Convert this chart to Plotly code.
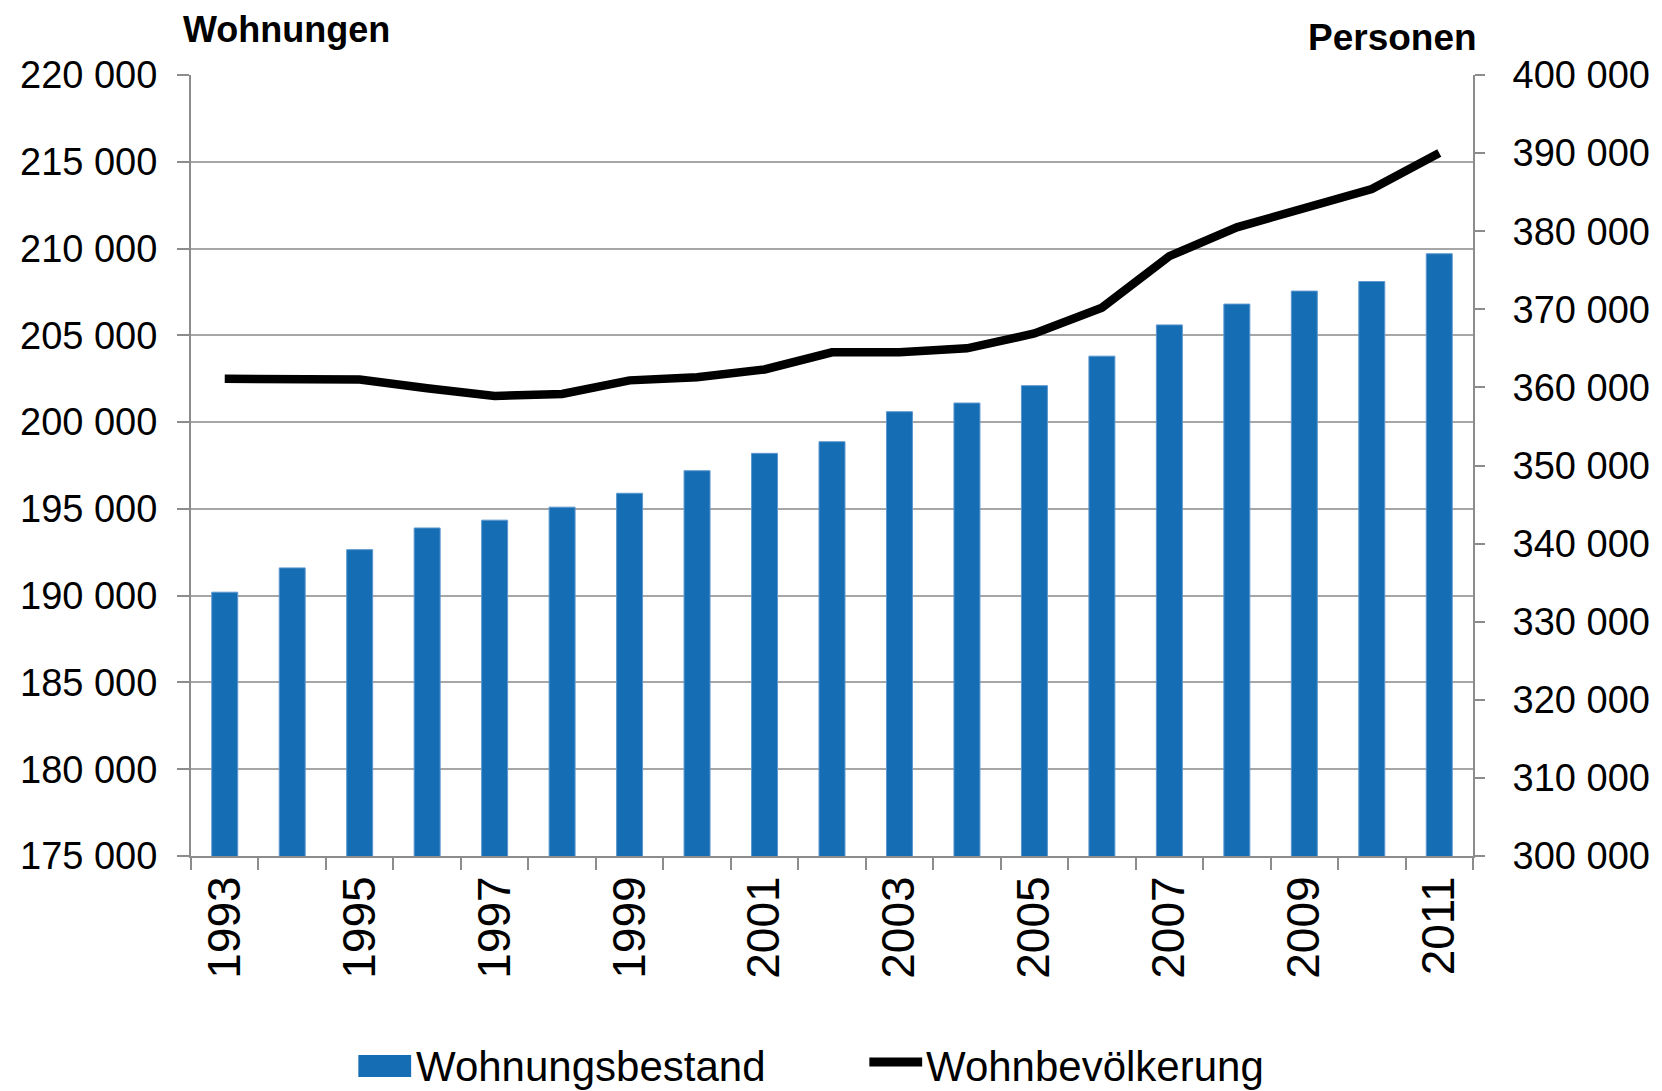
import plotly.graph_objects as go

years = list(range(1993, 2012))
wohnungsbestand = [190200, 191600, 192650, 193900, 194350, 195100, 195900, 197200, 198200, 198870,
                   200600, 201100, 202100, 203800, 205600, 206800, 207550, 208100, 209700]
wohnbevoelkerung = [361100, 361000, 361000, 359900, 358900, 359150, 360900, 361300, 362300, 364500,
                    364500, 365000, 366900, 370200, 376800, 380500, 382900, 385400, 390000]
x_tick_years = [1993, 1995, 1997, 1999, 2001, 2003, 2005, 2007, 2009, 2011]

BLUE = "#156EB4"
AXIS = "#8c8c8c"
GRID = "#a6a6a6"
FONT = "Liberation Sans, Arial, sans-serif"

fig = go.Figure()
fig.add_trace(go.Bar(
    x=years, y=wohnungsbestand, name="Wohnungsbestand",
    marker=dict(color=BLUE, line=dict(color="#5d97cf", width=1)),
    width=0.385, yaxis="y", showlegend=False,
))
fig.add_trace(go.Scatter(
    x=years, y=wohnbevoelkerung, name="Wohnbevölkerung", mode="lines",
    line=dict(color="black", width=8.5), yaxis="y2", showlegend=False,
))

# page body has an 8px margin; compensate so the plot lands where the reference has it
OFF = 8
W, H = 1662 - OFF, 1091 - OFF
L, T = 186 - OFF, 75 - OFF
pw, ph = 1287, 781
R, B = W - L - pw, H - T - ph

def px(X):
    return (X - OFF - L) / pw

def py(Y):
    return (T + ph - (Y - OFF)) / ph

fig.update_layout(
    width=W, height=H,
    margin=dict(l=L, r=R, t=T, b=B, pad=0),
    paper_bgcolor="white", plot_bgcolor="white",
    font=dict(family=FONT, color="black"),
    separators=", ",
    xaxis=dict(
        range=[1992.5, 2011.5], tickmode="array",
        tickvals=x_tick_years, ticktext=[str(y) for y in x_tick_years],
        tickangle=-90, tickfont=dict(size=46), ticks="", showgrid=False,
        showline=True, linecolor=AXIS, linewidth=2, zeroline=False,
        minor=dict(tick0=1992.5, dtick=1, ticks="outside", ticklen=12,
                   tickcolor=AXIS, tickwidth=2, showgrid=False),
    ),
    yaxis=dict(
        range=[175000, 220000], dtick=5000, tickformat=",d",
        tickfont=dict(size=38), ticks="outside", ticklen=12, tickcolor=AXIS, tickwidth=2,
        ticklabelstandoff=12,
        showgrid=True, gridcolor=GRID, gridwidth=1.5,
        showline=True, linecolor=AXIS, linewidth=2, zeroline=False,
    ),
    yaxis2=dict(
        range=[300000, 400000], dtick=10000, tickformat=",d", overlaying="y", side="right",
        tickfont=dict(size=38), ticks="outside", ticklen=10, tickcolor=AXIS, tickwidth=2,
        ticklabelstandoff=20,
        showgrid=False, showline=True, linecolor=AXIS, linewidth=2, zeroline=False,
    ),
    annotations=[
        dict(text="<b>Wohnungen</b>", xref="paper", yref="paper", x=px(176), y=py(29),
             xanchor="left", yanchor="middle", showarrow=False, font=dict(size=36)),
        dict(text="<b>Personen</b>", xref="paper", yref="paper", x=px(1479), y=py(37),
             xanchor="right", yanchor="middle", showarrow=False, font=dict(size=37)),
        dict(text="Wohnungsbestand", xref="paper", yref="paper", x=px(410), y=py(1066),
             xanchor="left", yanchor="middle", showarrow=False, font=dict(size=42)),
        dict(text="Wohnbevölkerung", xref="paper", yref="paper", x=px(922), y=py(1066),
             xanchor="left", yanchor="middle", showarrow=False, font=dict(size=42)),
    ],
    shapes=[
        dict(type="rect", xref="paper", yref="paper", x0=px(354), x1=px(407),
             y0=py(1077), y1=py(1055), fillcolor=BLUE, line=dict(width=0)),
        dict(type="line", xref="paper", yref="paper", x0=px(867), x1=px(920),
             y0=py(1062), y1=py(1062), line=dict(color="black", width=9)),
    ],
)

fig.write_html("out.html")
